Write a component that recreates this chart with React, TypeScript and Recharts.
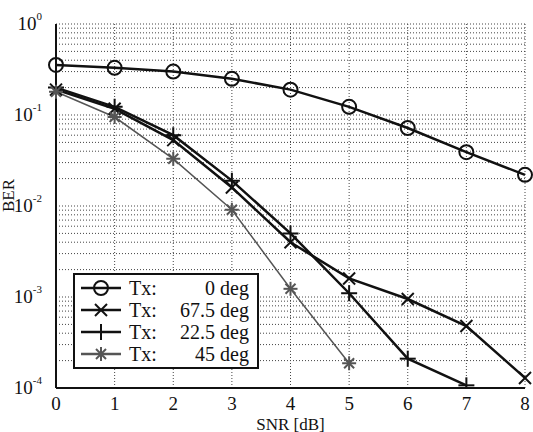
import React from "react";
import {
  LineChart,
  Line,
  XAxis,
  YAxis,
  CartesianGrid,
  Legend,
} from "recharts";

const snr = [0, 1, 2, 3, 4, 5, 6, 7, 8];
const tx0 = [0.355, 0.33, 0.3, 0.25, 0.19, 0.123, 0.072, 0.039, 0.022];
const tx675 = [0.19, 0.117, 0.053, 0.016, 0.004, 0.0016, 0.00095, 0.00048, 0.000129];
const tx225 = [0.2, 0.123, 0.06, 0.019, 0.005, 0.0011, 0.00021, 0.000107];
const tx45 = [0.18, 0.095, 0.033, 0.0091, 0.00123, 0.000187];

const decades = [-4, -3, -2, -1];
const yTicks: number[] = [];
decades.forEach((d) => {
  for (let k = 1; k <= 9; k++) yTicks.push(k * Math.pow(10, d));
});
yTicks.push(1);

const seriesInfo = [
  { key: "tx0", label: "0 deg", shape: "circle", color: "#111" },
  { key: "tx675", label: "67.5 deg", shape: "x", color: "#111" },
  { key: "tx225", label: "22.5 deg", shape: "plus", color: "#111" },
  { key: "tx45", label: "45 deg", shape: "star", color: "#555" },
];

const data = snr.map((s, i) => ({
  snr: s,
  tx0: tx0[i],
  tx675: tx675[i],
  tx225: tx225[i],
  tx45: tx45[i],
}));

const FONT = "'Liberation Serif', 'Times New Roman', serif";

function Marker({ cx, cy, shape, color }: any) {
  if (cx == null || cy == null || isNaN(cy)) return <g />;
  if (shape === "circle")
    return <circle cx={cx} cy={cy} r={7} fill="none" stroke={color} strokeWidth={2} />;
  if (shape === "x")
    return (
      <g stroke={color} strokeWidth={2}>
        <line x1={cx - 6} y1={cy - 6} x2={cx + 6} y2={cy + 6} />
        <line x1={cx - 6} y1={cy + 6} x2={cx + 6} y2={cy - 6} />
      </g>
    );
  if (shape === "plus")
    return (
      <g stroke={color} strokeWidth={2}>
        <line x1={cx - 8} y1={cy} x2={cx + 8} y2={cy} />
        <line x1={cx} y1={cy - 8} x2={cx} y2={cy + 8} />
      </g>
    );
  return (
    <g stroke={color} strokeWidth={2}>
      <line x1={cx - 7} y1={cy} x2={cx + 7} y2={cy} />
      <line x1={cx} y1={cy - 7} x2={cx} y2={cy + 7} />
      <line x1={cx - 5} y1={cy - 5} x2={cx + 5} y2={cy + 5} />
      <line x1={cx - 5} y1={cy + 5} x2={cx + 5} y2={cy - 5} />
    </g>
  );
}

const YTick = ({ x, y, payload }: any) => {
  const exp = Math.round(Math.log10(payload.value));
  if (Math.abs(payload.value - Math.pow(10, exp)) > 1e-12) return <g />;
  return (
    <text x={x - 6} y={y + 6} fontFamily={FONT} fill="#111" textAnchor="end">
      <tspan fontSize={19}>10</tspan>
      <tspan fontSize={11} dy={-10}>{exp}</tspan>
    </text>
  );
};

const renderLegend = () => (
  <div
    style={{
      border: "2px solid #111",
      background: "#fff",
      padding: "2px 8px 2px 4px",
      fontFamily: FONT,
      fontSize: 20,
      color: "#111",
      boxSizing: "border-box",
      width: 186,
    }}
  >
    {seriesInfo.map((s) => (
      <div key={s.key} style={{ display: "flex", alignItems: "center", height: 22 }}>
        <svg width={44} height={20}>
          <line x1={2} y1={10} x2={42} y2={10} stroke={s.color} strokeWidth={2.5} />
          <Marker cx={22} cy={10} shape={s.shape} color={s.color} />
        </svg>
        <span style={{ marginLeft: 6 }}>Tx:</span>
        <span style={{ flex: 1, textAlign: "right" }}>{s.label}</span>
      </div>
    ))}
  </div>
);

export default function App() {
  return (
    <div style={{ position: "absolute", left: 0, top: 0, width: 533, height: 432, background: "#fff" }}>
      <LineChart width={533} height={432} data={data} margin={{ top: 24, right: 8, bottom: 0, left: 0 }}>
        <CartesianGrid stroke="#444" strokeDasharray="1 2" strokeWidth={1} />
        <XAxis
          dataKey="snr"
          type="number"
          domain={[0, 8]}
          ticks={snr}
          height={44}
          stroke="#111"
          strokeWidth={2}
          tickLine={false}
          tick={{ fontFamily: FONT, fontSize: 19, fill: "#111", dy: 1 }}
          label={{ value: "SNR [dB]", position: "insideBottom", offset: 2, fontFamily: FONT, fontSize: 17, fill: "#111" }}
        />
        <XAxis xAxisId="top" orientation="top" type="number" domain={[0, 8]} height={0} tick={false} tickLine={false} stroke="#111" strokeWidth={2} />
        <YAxis
          scale="log"
          type="number"
          domain={[1e-4, 1]}
          ticks={yTicks}
          interval={0}
          allowDataOverflow
          width={56}
          stroke="#111"
          strokeWidth={2}
          tickLine={false}
          tick={<YTick />}
          label={{ value: "BER", angle: -90, position: "insideLeft", offset: 8, dy: 6, fontFamily: FONT, fontSize: 17, fill: "#111" }}
        />
        <YAxis yAxisId="right" orientation="right" type="number" domain={[0, 1]} width={0} tick={false} tickLine={false} stroke="#111" strokeWidth={2} />
        {seriesInfo.map((s) => (
          <Line
            key={s.key}
            dataKey={s.key}
            stroke={s.color}
            strokeWidth={s.shape === "star" ? 1.5 : 2.5}
            dot={(p: any) => <Marker key={`${s.key}-${p.index}`} cx={p.cx} cy={p.cy} shape={s.shape} color={s.color} />}
            activeDot={false}
            isAnimationActive={false}
            connectNulls={false}
          />
        ))}
        <Legend
          content={renderLegend}
          layout="horizontal"
          verticalAlign="middle"
          align="center"
          wrapperStyle={{ left: 73, top: 273, width: 186 }}
        />
      </LineChart>
    </div>
  );
}
